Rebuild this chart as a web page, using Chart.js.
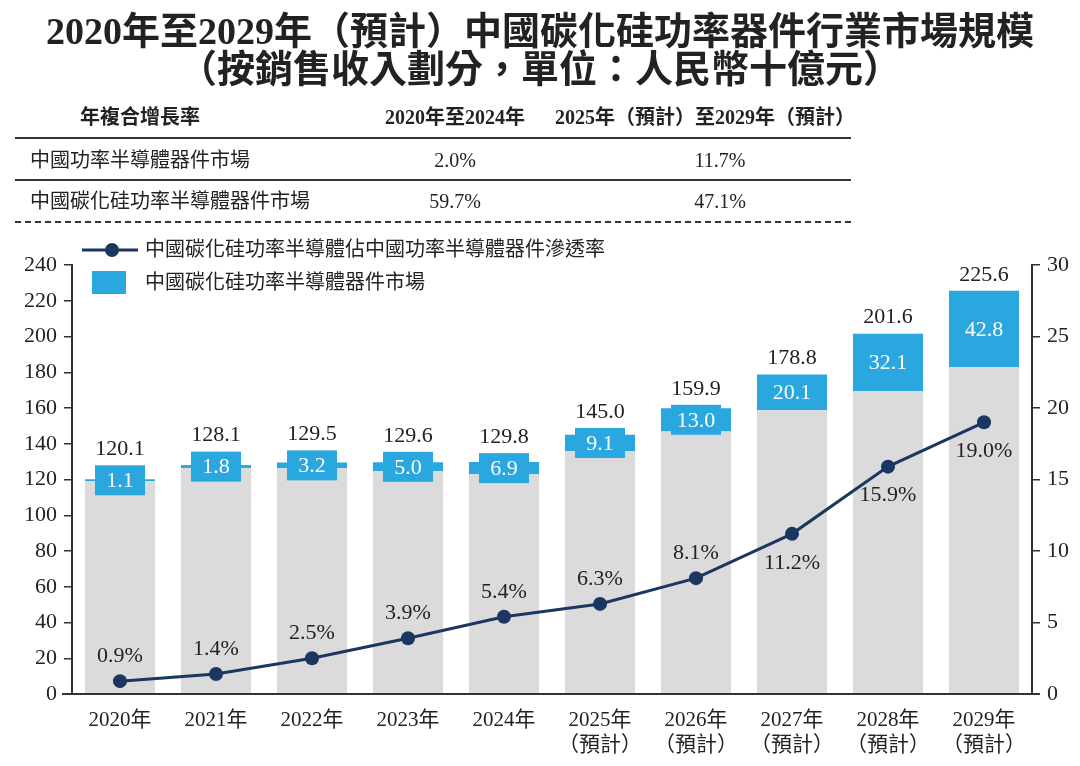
<!DOCTYPE html>
<html>
<head>
<meta charset="utf-8">
<script src="https://cdn.jsdelivr.net/npm/chart.js@4/dist/chart.umd.min.js"></script>
<style>
  html, body { margin: 0; padding: 0; background: #fff; }
  #wrap { position: relative; width: 1080px; height: 766px; overflow: hidden; font-family: "Liberation Serif", "Noto Sans CJK TC", serif; color: #222; }
  #chart { position: absolute; left: 0; top: 0; }
  .title { position: absolute; left: 0; width: 1080px; text-align: center; font-weight: bold; font-size: 38px; line-height: 40px; font-family: "Liberation Serif", "Noto Sans CJK TC", serif; }
  .t { position: absolute; font-size: 20px; line-height: 24px; white-space: nowrap; }
  .c { transform: translateX(-50%); }
  .b { font-weight: bold; }
  .rule { position: absolute; left: 15px; width: 836px; }
</style>
</head>
<body>
<div id="wrap">
  <canvas id="chart" width="1080" height="766"></canvas>
  <div class="title" style="top:11px">2020年至2029年（預計）中國碳化硅功率器件行業市場規模</div>
  <div class="title" style="top:49px">（按銷售收入劃分，單位：人民幣十億元）</div>

  <div class="t c b" style="left:140px;top:105px">年複合增長率</div>
  <div class="t c b" style="left:455px;top:105px">2020年至2024年</div>
  <div class="t c b" style="left:705px;top:105px">2025年（預計）至2029年（預計）</div>
  <div class="rule" style="top:137px;border-top:2.5px solid #333"></div>
  <div class="t" style="left:30px;top:148px">中國功率半導體器件市場</div>
  <div class="t c" style="left:455px;top:148px">2.0%</div>
  <div class="t c" style="left:720px;top:148px">11.7%</div>
  <div class="rule" style="top:179px;border-top:2px solid #333"></div>
  <div class="t" style="left:30px;top:189px">中國碳化硅功率半導體器件市場</div>
  <div class="t c" style="left:455px;top:189px">59.7%</div>
  <div class="t c" style="left:720px;top:189px">47.1%</div>
  <div class="rule" style="top:221px;border-top:2px dashed #333"></div>
</div>
<script>
// 年份
let years = ['2020年', '2021年', '2022年', '2023年', '2024年',
    ['2025年', '（預計）'], ['2026年', '（預計）'], ['2027年', '（預計）'], ['2028年', '（預計）'], ['2029年', '（預計）']];
// 中國功率半導體器件市場總規模（十億元）
let totalMarket = [120.1, 128.1, 129.5, 129.6, 129.8, 145.0, 159.9, 178.8, 201.6, 225.6];
// 中國碳化硅功率半導體器件市場（十億元）
let sicMarket = [1.1, 1.8, 3.2, 5.0, 6.9, 9.1, 13.0, 20.1, 32.1, 42.8];
// 滲透率（%）
let penetration = [0.9, 1.4, 2.5, 3.9, 5.4, 6.3, 8.1, 11.2, 15.9, 19.0];

let leftTicks = [0, 20, 40, 60, 80, 100, 120, 140, 160, 180, 200, 220, 240];
let rightTicks = [0, 5, 10, 15, 20, 25, 30];

let otherMarket = totalMarket.map((t, i) => +(t - sicMarket[i]).toFixed(1));

const SERIF = '"Liberation Serif", "Noto Sans CJK TC", serif';
const BLUE = '#2aa7df';
const GRAY = '#dbdbdb';
const NAVY = '#1b3761';
const AXIS = '#333';

let ctx = document.getElementById('chart').getContext('2d');

let labelsPlugin = {
    id: 'labels',
    afterDatasetsDraw(chart) {
        let c = chart.ctx;
        let blueMeta = chart.getDatasetMeta(2);
        let area = chart.chartArea;

        // x axis line
        c.save();
        c.strokeStyle = AXIS;
        c.lineWidth = 2;
        c.beginPath();
        c.moveTo(62, area.bottom);
        c.lineTo(1040, area.bottom);
        c.stroke();

        c.textAlign = 'center';
        c.textBaseline = 'middle';
        blueMeta.data.forEach((bar, i) => {
            let top = bar.y, bottom = bar.base;
            let mid = (top + bottom) / 2;
            let boxTop = Math.min(top, mid - 15);
            c.fillStyle = BLUE;
            c.fillRect(bar.x - 25, mid - 15, 50, 30);
            c.fillStyle = '#fff';
            c.font = '22px ' + SERIF;
            c.fillText(sicMarket[i].toFixed(1), bar.x, mid + 1);
            c.fillStyle = '#222';
            c.fillText(totalMarket[i].toFixed(1), bar.x, boxTop - 16);
        });
        c.restore();
    },
    afterDraw(chart) {
        let c = chart.ctx;
        let lineMeta = chart.getDatasetMeta(0);
        c.save();
        c.font = '22px ' + SERIF;
        c.fillStyle = '#222';
        c.textAlign = 'center';
        c.textBaseline = 'middle';
        lineMeta.data.forEach((pt, i) => {
            let dy = i >= 7 ? 29 : -25;
            c.fillText(penetration[i].toFixed(1) + '%', pt.x, pt.y + dy);
        });

        // legend
        c.strokeStyle = NAVY;
        c.lineWidth = 3;
        c.beginPath();
        c.moveTo(82, 250);
        c.lineTo(138, 250);
        c.stroke();
        c.fillStyle = NAVY;
        c.beginPath();
        c.arc(112, 250, 7, 0, Math.PI * 2);
        c.fill();
        c.fillStyle = BLUE;
        c.fillRect(92, 271, 34, 23);
        c.fillStyle = '#222';
        c.textAlign = 'left';
        c.font = '20px ' + SERIF;
        c.fillText('中國碳化硅功率半導體佔中國功率半導體器件滲透率', 145, 251);
        c.fillText('中國碳化硅功率半導體器件市場', 145, 284);
        c.restore();
    }
};

let chart = new Chart(ctx, {
    type: 'bar',
    data: {
        labels: years,
        datasets: [{
            type: 'line',
            label: '中國碳化硅功率半導體佔中國功率半導體器件滲透率',
            data: penetration,
            yAxisID: 'y1',
            borderColor: NAVY,
            backgroundColor: NAVY,
            borderWidth: 3,
            pointRadius: 7,
            pointBackgroundColor: NAVY,
            pointBorderWidth: 0,
            tension: 0,
            order: 0
        }, {
            label: '其他',
            data: otherMarket,
            backgroundColor: GRAY,
            stack: 's',
            barPercentage: 0.73,
            categoryPercentage: 1,
            order: 1
        }, {
            label: '中國碳化硅功率半導體器件市場',
            data: sicMarket,
            backgroundColor: BLUE,
            stack: 's',
            barPercentage: 0.73,
            categoryPercentage: 1,
            order: 1
        }]
    },
    options: {
        responsive: false,
        animation: false,
        layout: { padding: { top: 265, left: 0, right: 0, bottom: 0 } },
        plugins: {
            legend: { display: false },
            tooltip: { enabled: false }
        },
        scales: {
            x: {
                stacked: true,
                grid: { display: false },
                border: { display: false },
                ticks: { color: '#222', font: { family: SERIF, size: 21 }, padding: 6, maxRotation: 0 },
                afterFit(scale) { scale.height = 72; }
            },
            y: {
                stacked: true,
                position: 'left',
                min: 0,
                max: 240,
                afterBuildTicks(scale) { scale.ticks = leftTicks.map(v => ({ value: v })); },
                grid: { drawOnChartArea: false, drawTicks: true, tickLength: 8, color: AXIS, lineWidth: 1.5 },
                border: { display: true, color: AXIS, width: 2 },
                ticks: { color: '#222', font: { family: SERIF, size: 22 }, padding: 7 },
                afterFit(scale) { scale.width = 72; }
            },
            y1: {
                position: 'right',
                min: 0,
                max: 30,
                afterBuildTicks(scale) { scale.ticks = rightTicks.map(v => ({ value: v })); },
                grid: { drawOnChartArea: false, drawTicks: true, tickLength: 8, color: AXIS, lineWidth: 1.5 },
                border: { display: true, color: AXIS, width: 2 },
                ticks: { color: '#222', font: { family: SERIF, size: 22 }, padding: 7 },
                afterFit(scale) { scale.width = 48; }
            }
        }
    },
    plugins: [labelsPlugin]
});
</script>
</body>
</html>
